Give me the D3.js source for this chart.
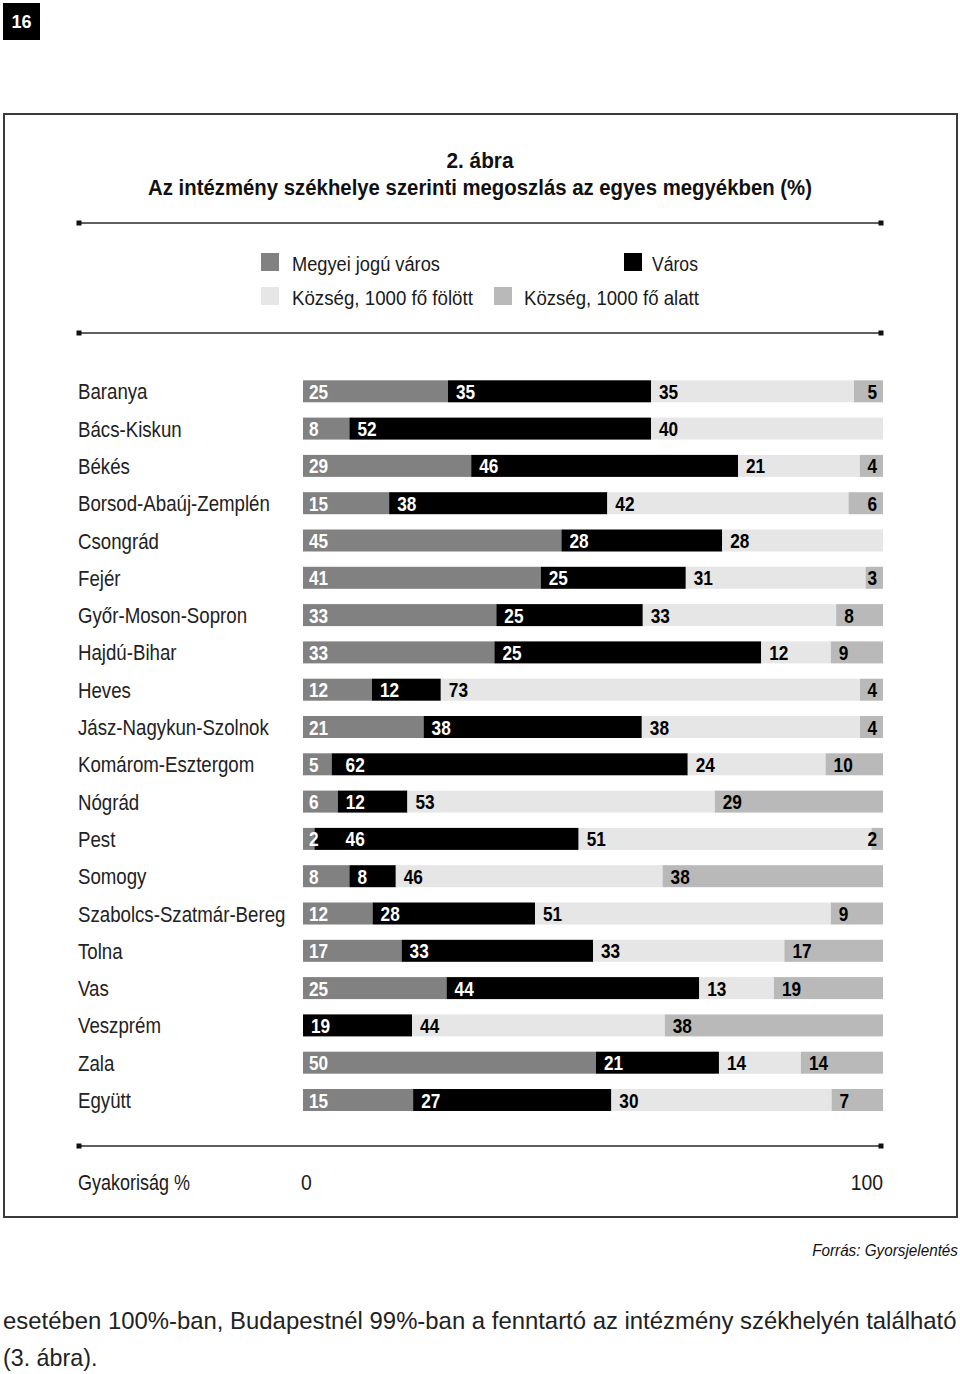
<!DOCTYPE html>
<html><head><meta charset="utf-8">
<script src="https://cdn.jsdelivr.net/npm/d3@7"></script>
<style>body{margin:0;background:#fff}svg{display:block}</style>
</head><body>
<svg id="chart" width="960" height="1374"></svg>
<script>
// ---------- data ----------
const categories = ["Baranya","Bács-Kiskun","Békés","Borsod-Abaúj-Zemplén","Csongrád","Fejér","Győr-Moson-Sopron","Hajdú-Bihar","Heves","Jász-Nagykun-Szolnok","Komárom-Esztergom","Nógrád","Pest","Somogy","Szabolcs-Szatmár-Bereg","Tolna","Vas","Veszprém","Zala","Együtt"];
const seriesNames = ["Megyei jogú város","Város","Község, 1000 fő fölött","Község, 1000 fő alatt"];
const megyeiJoguVaros = [25,8,29,15,45,41,33,33,12,21,5,6,2,8,12,17,25,0,50,15];
const varos          = [35,52,46,38,28,25,25,46,12,38,62,12,46,8,28,33,44,19,21,27];
const kozsegFolott   = [35,40,21,42,28,31,33,12,73,38,24,53,51,46,51,33,13,44,14,30];
const kozsegAlatt    = [5,0,4,6,0,3,8,9,4,4,10,29,2,38,9,17,19,38,14,7];
// label printed in the source where it differs from the drawn bar length
const printedLabels = {"Hajdú-Bihar|1": "25"};
const axisTicks = [0, 100];
const axisTitle = "Gyakoriság %";
const figNumber = "2. ábra";
const figTitle = "Az intézmény székhelye szerinti megoszlás az egyes megyékben (%)";
const sourceText = "Forrás: Gyorsjelentés";
const bodyLines = ["esetében 100%-ban, Budapestnél 99%-ban a fenntartó az intézmény székhelyén található","(3. ábra)."];
const pageNumber = "16";

// ---------- style ----------
const colors = ["#818181","#000000","#e6e6e6","#b9b9b9"];
const labelColors = ["#ffffff","#ffffff","#000000","#000000"];
const FONT = "'Liberation Sans',Arial,sans-serif";
const SX = 0.82;   // horizontal condensing to mimic a condensed face
const keys = ["m","v","f","a"];

const svg = d3.select("#chart");

// helper: condensed text (scaled horizontally)
function ctext(parent, o){
  const g = parent.append("g");
  const t = g.append("text").attr("x",0).attr("y",0)
    .attr("font-family",o.family||FONT).attr("font-size",o.size)
    .attr("font-weight",o.weight||"normal").attr("font-style",o.style||"normal")
    .attr("fill",o.fill||"#1a1a1a").attr("text-anchor",o.anchor||"start").text(o.text);
  const w0 = t.node().getComputedTextLength();
  const sx = o.fitWidth ? o.fitWidth / w0 : (o.sx||SX);
  g.attr("transform",`translate(${o.x},${o.y}) scale(${sx},1)`);
  return {g, t, width: w0*sx, setX(nx){ g.attr("transform",`translate(${nx},${o.y}) scale(${sx},1)`); }};
}

// page number box
svg.append("rect").attr("x",3).attr("y",3).attr("width",37).attr("height",37).attr("fill","#000");
ctext(svg,{x:21.5,y:28,text:pageNumber,size:19,weight:"bold",fill:"#fff",anchor:"middle",sx:0.95});

// frame
svg.append("rect").attr("x",4).attr("y",114).attr("width",953).attr("height",1103)
  .attr("fill","none").attr("stroke","#3a3a3a").attr("stroke-width",2);

// titles
ctext(svg,{x:480,y:168,text:figNumber,size:22,weight:"bold",fill:"#111",anchor:"middle",fitWidth:67});
ctext(svg,{x:480,y:195,text:figTitle,size:22,weight:"bold",fill:"#111",anchor:"middle",fitWidth:664});

// separators
function sep(y){
  svg.append("line").attr("x1",79).attr("x2",881).attr("y1",y).attr("y2",y).attr("stroke","#2a2a2a").attr("stroke-width",1.6);
  [79,881].forEach(x=>svg.append("rect").attr("x",x-2.5).attr("y",y-2.5).attr("width",5).attr("height",5).attr("fill","#111"));
}
sep(223); sep(333); sep(1146);

// legend
const legendPos = [[261,253],[624,253],[261,287],[494,287]];
const legendTextX = [292,652,292,524];
const legendWidths = [148,46,181,175];
const leg = svg.append("g");
seriesNames.forEach((n,i)=>{
  const [lx,ly] = legendPos[i];
  leg.append("rect").attr("x",lx).attr("y",ly).attr("width",18).attr("height",18).attr("fill",colors[i]);
  ctext(leg,{x:legendTextX[i],y:ly+18,text:n,size:21,fitWidth:legendWidths[i]});
});

// scales
const x = d3.scaleLinear().domain([0,1]).range([303,883]);
const xPct = d3.scaleLinear().domain([0,100]).range([303,883]);
const y = d3.scalePoint().domain(categories).range([391.3,1100]);
const BH = 22;

const rows = categories.map((c,i)=>({cat:c,m:megyeiJoguVaros[i],v:varos[i],f:kozsegFolott[i],a:kozsegAlatt[i]}));
const stacked = d3.stack().keys(keys).offset(d3.stackOffsetExpand)(rows);

// category labels
const catG = svg.append("g");
categories.forEach(c=>ctext(catG,{x:78,y:y(c)+8,text:c,size:22.5,fill:"#222",sx:0.83}));

// bars
const barG = svg.append("g");
stacked.forEach((layer,si)=>{
  barG.append("g").selectAll("rect").data(layer).join("rect")
    .attr("x",d=>x(d[0])).attr("width",d=>Math.max(0,x(d[1])-x(d[0])))
    .attr("y",d=>y(d.data.cat)-BH/2).attr("height",BH).attr("fill",colors[si]);
});

// value labels
const labG = svg.append("g");
rows.forEach((r)=>{
  let prevEnd = -Infinity;
  stacked.forEach((layer,si)=>{
    const d = layer.find(e=>e.data.cat===r.cat);
    const val = r[keys[si]];
    if (!val) return;
    const txt = printedLabels[r.cat+"|"+si] || String(val);
    const x0 = x(d[0]), x1 = x(d[1]);
    const L = ctext(labG,{x:0,y:y(r.cat)+7.5,text:txt,size:21,weight:"bold",fill:labelColors[si],sx:0.82});
    let lx;
    if (si===3 && (x1-x0)<36) { lx = x1-6-L.width; }
    else if (si===0) { lx = x0+6; }
    else { lx = Math.max(x0+8, prevEnd+27); }
    L.setX(lx);
    prevEnd = lx + L.width;
  });
});

// axis labels
ctext(svg,{x:78,y:1190,text:axisTitle,size:21.5,fitWidth:112});
axisTicks.forEach(d=>{
  ctext(svg,{x:xPct(d)+(d===0?-2:0),y:1190,text:String(d),size:22,anchor:d===0?"start":"end",sx:0.88});
});

// source
ctext(svg,{x:958,y:1256,text:sourceText,size:17,style:"italic",fill:"#111",anchor:"end",fitWidth:146});

// body text
const BODY = "'Liberation Sans',Arial,sans-serif";
ctext(svg,{x:3,y:1329,text:bodyLines[0],size:24,family:BODY,fill:"#222",fitWidth:954});
ctext(svg,{x:3,y:1366,text:bodyLines[1],size:24,family:BODY,fill:"#222",sx:0.97});
</script>
</body></html>
